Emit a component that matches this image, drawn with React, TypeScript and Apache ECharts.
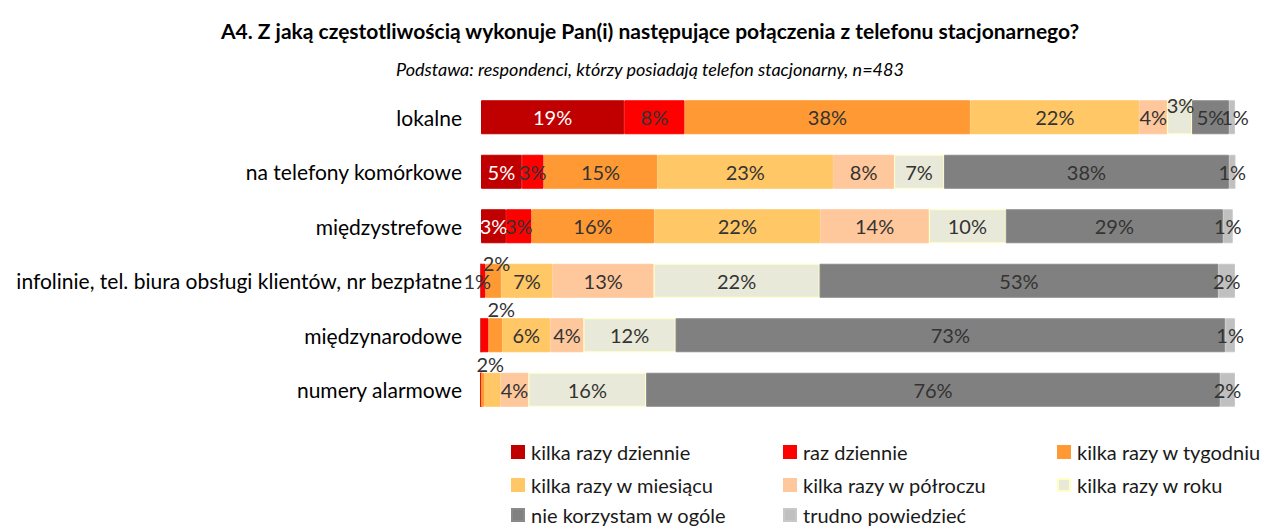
import React, { useEffect, useRef } from "react";
import * as echarts from "echarts";

const categories = [
  "lokalne",
  "na telefony komórkowe",
  "międzystrefowe",
  "infolinie, tel. biura obsługi klientów, nr bezpłatne",
  "międzynarodowe",
  "numery alarmowe",
];

const seriesNames = [
  "kilka razy dziennie",
  "raz dziennie",
  "kilka razy w tygodniu",
  "kilka razy w miesiącu",
  "kilka razy w półroczu",
  "kilka razy w roku",
  "nie korzystam w ogóle",
  "trudno powiedzieć",
];

const kilkaRazyDziennie = [19.0, 5.4, 3.3, 0, 0, 0];
const razDziennie = [8.0, 2.9, 3.4, 0.6, 1.0, 0];
const kilkaRazyWTygodniu = [37.9, 15.1, 16.3, 2.1, 1.8, 0.4];
const kilkaRazyWMiesiacu = [22.4, 23.3, 22.0, 6.8, 6.4, 2.2];
const kilkaRazyWPolroczu = [3.7, 8.1, 14.4, 13.4, 4.4, 3.7];
const kilkaRazyWRoku = [3.3, 6.6, 10.2, 22.0, 12.2, 15.6];
const nieKorzystam = [4.9, 37.8, 28.8, 52.9, 72.9, 76.1];
const trudnoPowiedziec = [0.8, 0.9, 1.3, 2.2, 1.3, 2.0];

const values = [
  kilkaRazyDziennie,
  razDziennie,
  kilkaRazyWTygodniu,
  kilkaRazyWMiesiacu,
  kilkaRazyWPolroczu,
  kilkaRazyWRoku,
  nieKorzystam,
  trudnoPowiedziec,
];

const colors = ["#C00000", "#FF0000", "#FF9933", "#FFC766", "#FFC89C", "#E9E9D9", "#808080", "#C0C0C0"];
const borderColors = ["#C00000", "#FF0000", "#FF9933", "#FFC766", "#FFC89C", "#FFFFC4", "#8A8A8A", "#C8C8C8"];

// label tweaks: key "series-category"
const hiddenLabels = ["1-4", "2-5"];
const labelOffsets: Record<string, [number, number]> = {
  "1-3": [-6, 0],
  "2-3": [3, -18],
  "2-4": [6, -26],
  "3-5": [-2, -26],
  "5-0": [1, -12],
  "7-0": [3, 0],
};

// legend grid: [series index, column, row]
const legendPlacement: [number, number, number][] = [
  [0, 0, 0], [1, 1, 0], [2, 2, 0],
  [3, 0, 1], [4, 1, 1], [5, 2, 1],
  [6, 0, 2], [7, 1, 2],
];

const FONT = "Lato, 'Open Sans', sans-serif";

export default function App() {
  const ref = useRef<HTMLDivElement>(null);
  useEffect(() => {
    document.body.style.margin = "0";
    if (!ref.current) return;
    const chart = echarts.init(ref.current, undefined, { renderer: "svg" });
    const series = values.map((arr, si) => ({
      name: seriesNames[si],
      type: "bar",
      stack: "total",
      barWidth: 34,
      itemStyle: { color: colors[si], borderColor: borderColors[si], borderWidth: 1 },
      label: {
        show: true,
        position: "inside",
        fontFamily: FONT,
        fontSize: 20,
        color: si === 0 ? "#FFFFFF" : "#333333",
        formatter: (p: any) => (p.value > 0 ? Math.round(p.value) + "%" : ""),
      },
      labelLayout: (p: any) => {
        const off = labelOffsets[p.seriesIndex + "-" + p.dataIndex];
        if (off) return { dx: off[0], dy: off[1], hideOverlap: false };
        return { hideOverlap: false };
      },
      data: arr.map((v, ci) => {
        const key = si + "-" + ci;
        if (hiddenLabels.includes(key)) return { value: v, label: { show: false } };
        return v;
      }),
    }));

    const colLefts = [511, 783, 1057];
    const rowCenters = [452, 485, 515];

    chart.setOption({
      animation: false,
      title: [
        {
          text: "A4. Z jaką częstotliwością wykonuje Pan(i) następujące połączenia z telefonu stacjonarnego?",
          left: 645,
          top: 15,
          textAlign: "center",
          textStyle: { fontFamily: FONT, fontWeight: "bold", fontSize: 21, color: "#000" },
        },
        {
          text: "Podstawa: respondenci, którzy posiadają telefon stacjonarny, n=483",
          left: 645,
          top: 55,
          textAlign: "center",
          textStyle: { fontFamily: FONT, fontStyle: "italic", fontWeight: "normal", fontSize: 18, color: "#000" },
        },
      ],
      legend: legendPlacement.map(([si, col, row]) => ({
        data: [seriesNames[si]],
        orient: "horizontal",
        left: colLefts[col],
        top: rowCenters[row] - 10,
        itemWidth: 12,
        itemHeight: 12,
        itemGap: 0,
        padding: 0,
        icon: "rect",
        selectedMode: false,
        textStyle: { fontFamily: FONT, fontSize: 20, color: "#1A1A1A", lineHeight: 20, padding: [0, 0, 0, 2] },
      })),
      grid: { left: 481, right: 34, top: 90, height: 327, containLabel: false },
      xAxis: {
        type: "value",
        min: 0,
        max: 100,
        show: false,
      },
      yAxis: {
        type: "category",
        data: categories,
        inverse: true,
        axisLine: { show: false },
        axisTick: { show: false },
        axisLabel: { margin: 19, fontFamily: FONT, fontSize: 21, color: "#000" },
      },
      series,
    });
    return () => chart.dispose();
  }, []);
  return <div ref={ref} style={{ width: 1269, height: 529 }} />;
}
